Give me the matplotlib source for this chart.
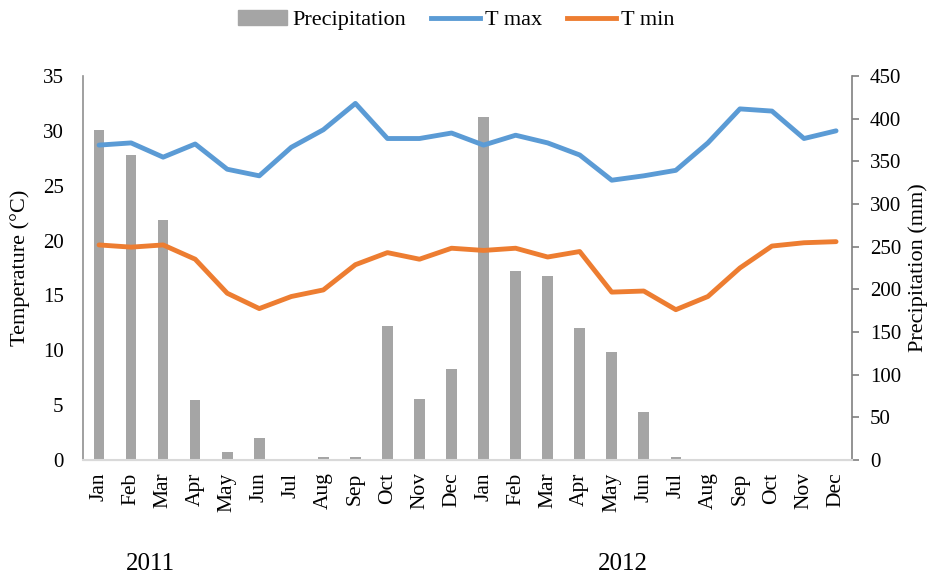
import matplotlib
matplotlib.use("Agg")
import matplotlib.pyplot as plt
from matplotlib.patches import Patch
from matplotlib.lines import Line2D
import numpy as np

plt.rcParams['font.family'] = ['Liberation Serif', 'DejaVu Serif']

# місяці двох років
months = ["Jan", "Feb", "Mar", "Apr", "May", "Jun", "Jul", "Aug", "Sep", "Oct", "Nov", "Dec"] * 2
years = ["2011", "2012"]

# опади, мм
precip = [387, 357, 281, 70, 9, 26, 0, 4, 3, 157, 71, 107,
          402, 222, 216, 155, 126, 56, 4, 0, 0, 0, 0, 0]

# температура, °C
t_max = [28.7, 28.9, 27.6, 28.8, 26.5, 25.9, 28.5, 30.1, 32.5, 29.3, 29.3, 29.8,
         28.7, 29.6, 28.9, 27.8, 25.5, 25.9, 26.4, 28.9, 32.0, 31.8, 29.3, 30.0]
t_min = [19.6, 19.4, 19.6, 18.3, 15.2, 13.8, 14.9, 15.5, 17.8, 18.9, 18.3, 19.3,
         19.1, 19.3, 18.5, 19.0, 15.3, 15.4, 13.7, 14.9, 17.5, 19.5, 19.8, 19.9]

c_bar = "#A5A5A5"
c_max = "#5B9BD5"
c_min = "#ED7D31"

x = np.arange(len(months))

fig = plt.figure(figsize=(9.35, 5.76), dpi=100)
ax = fig.add_axes([0.0888, 0.2014, 0.8225, 0.6667])
ax2 = ax.twinx()

# стовпчики опадів на правій осі
ax2.bar(x, precip, width=0.33, color=c_bar)
ax2.set_ylim(0, 450)
ax2.set_yticks(range(0, 451, 50))
ax2.set_ylabel("Precipitation (mm)", fontsize=16, labelpad=5)

# лінії температур поверх стовпчиків
ax.set_zorder(ax2.get_zorder() + 1)
ax.patch.set_visible(False)
ax.plot(x, t_max, color=c_max, lw=3.5, solid_capstyle='round', solid_joinstyle='round')
ax.plot(x, t_min, color=c_min, lw=3.5, solid_capstyle='round', solid_joinstyle='round')
ax.set_ylim(0, 35)
ax.set_yticks(range(0, 36, 5))
ax.set_xlim(-0.5, len(months) - 0.5)
ax.set_xticks(x)
ax.set_xticklabels(months, rotation=90, fontsize=15.5)
ax.set_ylabel("Temperature (°C)", fontsize=16, labelpad=9)

ax.tick_params(axis='y', length=0, labelsize=15, pad=14)
ax.tick_params(axis='x', length=0, pad=9)
ax2.tick_params(axis='y', length=5, width=1.2, color="#808080", labelsize=15,
                direction='out', pad=8)
ax2.tick_params(axis='x', length=0)

for a in (ax, ax2):
    a.spines['top'].set_visible(False)
ax.spines['left'].set_color("#909090")
ax.spines['left'].set_linewidth(1.2)
ax.spines['right'].set_visible(False)
ax2.spines['left'].set_visible(False)
ax2.spines['right'].set_color("#808080")
ax2.spines['right'].set_linewidth(1.2)
ax.spines['bottom'].set_color("#D9D9D9")
ax2.spines['bottom'].set_color("#D9D9D9")
ax.spines['bottom'].set_linewidth(1.5)

handles = [Patch(color=c_bar),
           Line2D([], [], color=c_max, lw=3.5),
           Line2D([], [], color=c_min, lw=3.5)]
fig.legend(handles, ["Precipitation", "T max", "T min"], loc='center',
           bbox_to_anchor=(0.488, 0.965), ncol=3, frameon=False, fontsize=16,
           handlelength=2.2, handletextpad=0.25, columnspacing=1.1)

fig.text(0.161, 0.02, years[0], ha='center', va='center', fontsize=18)
fig.text(0.666, 0.02, years[1], ha='center', va='center', fontsize=18)

fig.savefig("out.png", dpi=100)
